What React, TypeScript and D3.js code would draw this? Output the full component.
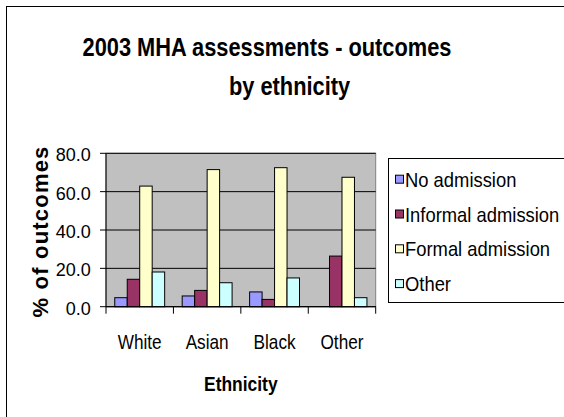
import React from "react";
import * as d3 from "d3";

const categories = ["White", "Asian", "Black", "Other"];
const seriesNames = ["No admission", "Informal admission", "Formal admission", "Other"];
const noAdmission = [4.7, 5.6, 7.7, 0];
const informalAdmission = [14.3, 8.5, 3.8, 26.4];
const formalAdmission = [62.9, 71.5, 72.5, 67.5];
const otherOutcome = [18.1, 12.5, 15.0, 4.7];
const yTicks = [0, 20, 40, 60, 80];
const seriesColors = ["#9999ff", "#993366", "#ffffcc", "#ccffff"];

const seriesValues = [noAdmission, informalAdmission, formalAdmission, otherOutcome];

const FONT = "'Liberation Sans', Arial, sans-serif";

function Txt(props: {
  x: number; y: number; sx?: number; size: number; bold?: boolean; ls?: number;
  anchor?: "start" | "middle" | "end"; rotate?: number; children: React.ReactNode;
}) {
  const { x, y, sx = 1, size, bold, anchor = "start", rotate = 0, ls = 0, children } = props;
  return (
    <text
      transform={`translate(${x},${y}) rotate(${rotate}) scale(${sx},1)`}
      fontFamily={FONT}
      fontSize={size}
      fontWeight={bold ? "bold" : "normal"}
      textAnchor={anchor}
      letterSpacing={ls}
      fill="#000"
    >
      {children}
    </text>
  );
}

export default function App() {
  const W = 564, H = 417;
  const left = 106, right = 375.7, top = 153.3, bottom = 306.7;

  const x0 = d3.scaleBand<string>().domain(categories).range([left, right]).paddingInner(0).paddingOuter(0);
  const bw = x0.bandwidth();
  const gap = bw * 0.26;
  const x1 = d3.scaleBand<number>().domain(d3.range(seriesNames.length)).range([gap / 2, bw - gap / 2]).padding(0);
  const y = d3.scaleLinear().domain([0, 80]).range([bottom, top]);

  return (
    <svg width={W} height={H} style={{ position: "absolute", left: 0, top: 0, background: "#fff" }}>
      <rect x={0} y={0} width={W} height={H} fill="#fff" />
      <rect x={6.5} y={6.5} width={620} height={460} fill="none" stroke="#000" strokeWidth={1} />

      {/* Title */}
      <Txt x={267} y={56} size={25} bold anchor="middle" sx={0.873}>2003 MHA assessments - outcomes</Txt>
      <Txt x={289.5} y={95} size={25} bold anchor="middle" sx={0.873}>by ethnicity</Txt>

      {/* Plot area */}
      <rect x={left} y={top} width={right - left} height={bottom - top} fill="#c0c0c0" stroke="#808080" strokeWidth={1} />
      {yTicks.map((t) => (
        <g key={t}>
          <line x1={left - 6} x2={right} y1={y(t)} y2={y(t)} stroke="#000" strokeWidth={1} />
          <Txt x={90.7} y={y(t) + 8} size={18} anchor="end">{t.toFixed(1)}</Txt>
        </g>
      ))}

      {/* Bars */}
      {categories.map((c, ci) => (
        <g key={c} transform={`translate(${x0(c)},0)`}>
          {seriesValues.map((vals, si) =>
            vals[ci] > 0 ? (
              <rect
                key={si}
                x={x1(si)}
                y={y(vals[ci])}
                width={x1.bandwidth()}
                height={y(0) - y(vals[ci])}
                fill={seriesColors[si]}
                stroke="#000"
                strokeWidth={1}
              />
            ) : null
          )}
        </g>
      ))}

      {/* Axes */}
      <line x1={left} x2={left} y1={top} y2={bottom} stroke="#000" strokeWidth={1} />
      <line x1={left} x2={right} y1={bottom} y2={bottom} stroke="#000" strokeWidth={1} />
      {categories.concat(["end"]).map((c, i) => {
        const xx = left + i * bw;
        return <line key={"t" + i} x1={xx} x2={xx} y1={bottom} y2={bottom + 7} stroke="#000" strokeWidth={1} />;
      })}
      {categories.map((c) => (
        <Txt key={c} x={(x0(c) as number) + bw / 2} y={349.3} size={20} anchor="middle" sx={0.86}>{c}</Txt>
      ))}

      {/* Axis titles */}
      <Txt x={240.8} y={390.7} size={21} bold anchor="middle" sx={0.83}>Ethnicity</Txt>
      <Txt x={48} y={231.5} size={22} bold anchor="middle" rotate={-90} sx={1} ls={1.2}>% of outcomes</Txt>

      {/* Legend */}
      <rect x={388.5} y={158.5} width={200} height={144} fill="#fff" stroke="#000" strokeWidth={1} />
      {seriesNames.map((n, i) => {
        const by = 186.7 + i * 34.8;
        return (
          <g key={n}>
            <rect x={395.5} y={by - 11.5} width={8} height={8} fill={seriesColors[i]} stroke="#000" strokeWidth={1} />
            <Txt x={405} y={by} size={20} sx={0.92}>{n}</Txt>
          </g>
        );
      })}
    </svg>
  );
}
